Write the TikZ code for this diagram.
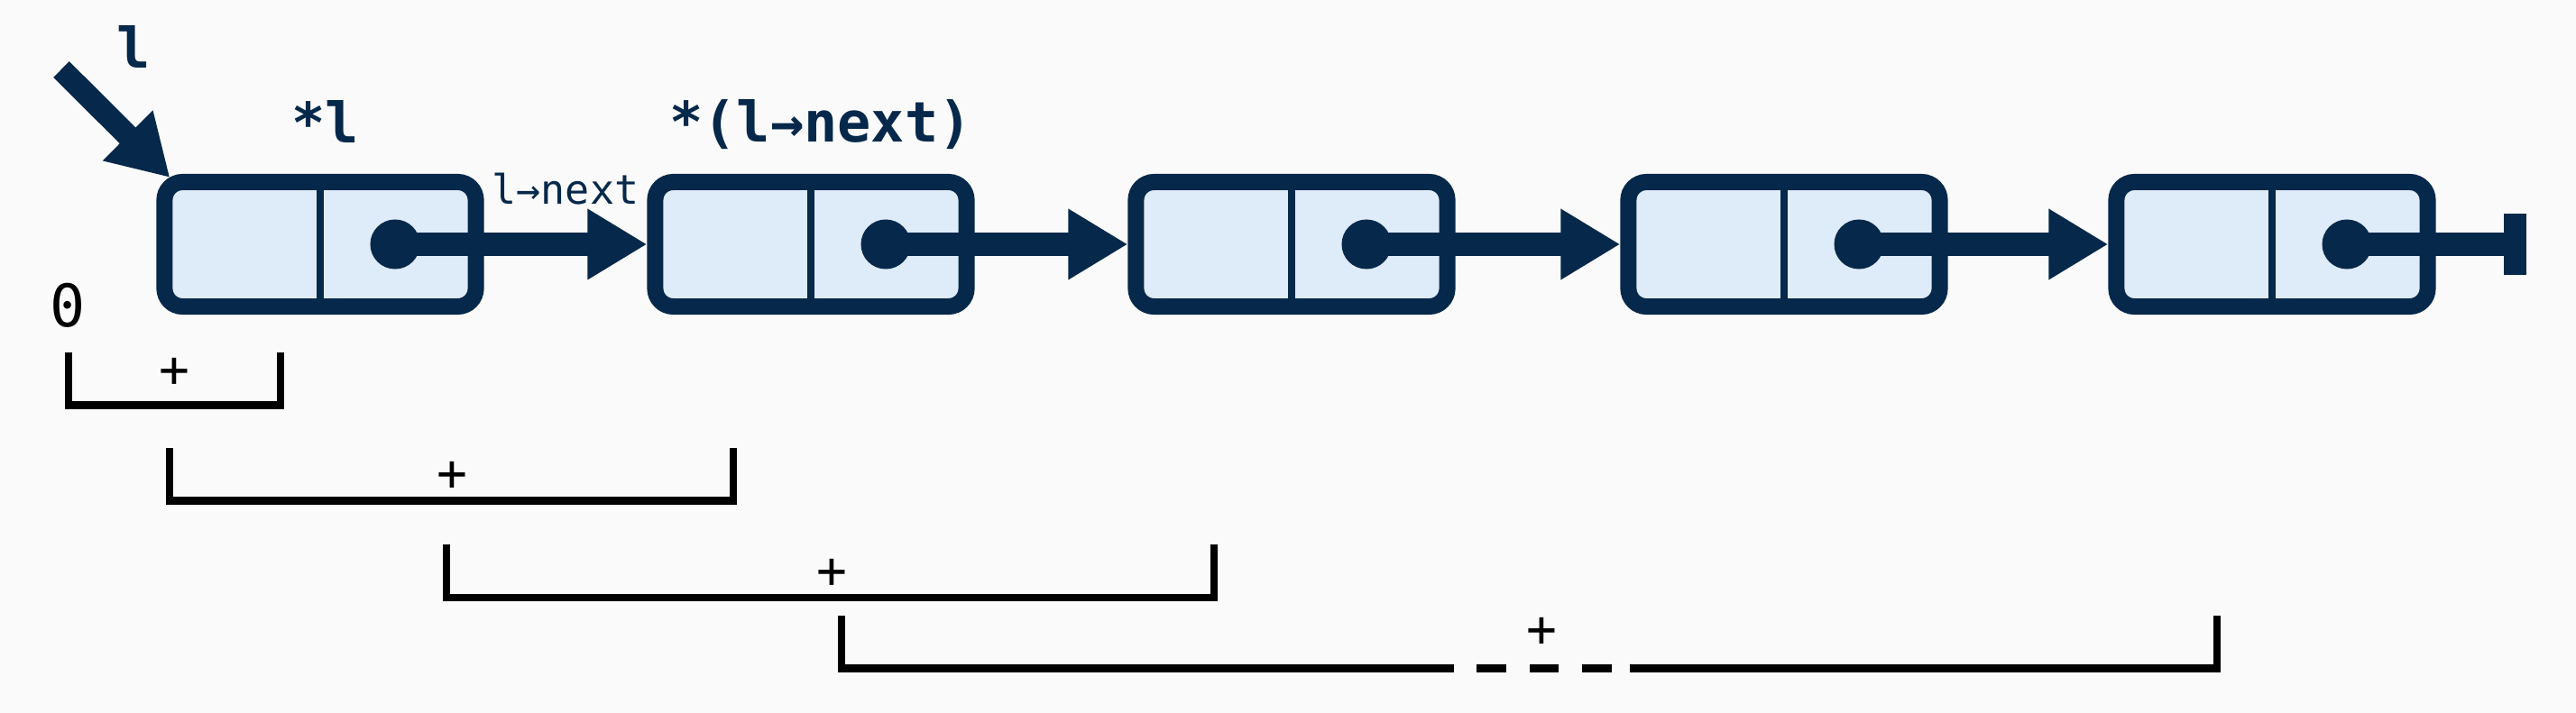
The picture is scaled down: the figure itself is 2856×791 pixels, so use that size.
\documentclass[tikz,border=0pt]{standalone}
\usepackage{fontspec}
\setmonofont{DejaVu Sans Mono}
\usetikzlibrary{arrows.meta,calc}
\definecolor{navy}{RGB}{6,40,74}
\definecolor{cellfill}{RGB}{222,235,248}
\definecolor{bgc}{RGB}{250,250,250}
\begin{document}
\begin{tikzpicture}[x=0.01cm,y=-0.01cm,
  cell/.style={draw=navy,fill=cellfill,line width=0.18cm,rounded corners=0.2cm,minimum width=3.45cm,minimum height=1.38cm,inner sep=0pt,outer sep=0.09cm},
  divider/.style={draw=navy,line width=0.08cm},
  ptrdot/.style={circle,fill=navy,minimum size=0.55cm,inner sep=0pt},
  ptr/.style={draw=navy,line width=0.25cm,-{Triangle[length=0.66cm,width=0.74cm]}},
  ptrline/.style={draw=navy,line width=0.25cm},
  bigl/.style={font=\ttfamily\bfseries\fontsize{17.6}{20}\selectfont,text=navy,inner sep=0pt,anchor=base},
  smalll/.style={font=\ttfamily\fontsize{12.8}{15}\selectfont,text=navy,inner sep=0pt,anchor=base},
  zerol/.style={font=\ttfamily\fontsize{18.5}{20}\selectfont,inner sep=0pt,anchor=base},
  plus/.style={font=\ttfamily\fontsize{16}{18}\selectfont,inner sep=0pt},
  brk/.style={draw=black,line width=0.08cm},
]
\fill[bgc] (0,0) rectangle (2856,791);
\useasboundingbox (0,0) rectangle (2856,791);

\node[cell] (n1) at (355,271) {};
\node[cell] (n2) at (899,271) {};
\node[cell] (n3) at (1432,271) {};
\node[cell] (n4) at (1978,271) {};
\node[cell] (n5) at (2519,271) {};

\foreach \n in {n1,n2,n3,n4,n5} \draw[divider] (\n.north) -- (\n.south);

\node[ptrdot] (d1) at ($(n1.center)+(83,0)$) {};
\node[ptrdot] (d2) at ($(n2.center)+(83,0)$) {};
\node[ptrdot] (d3) at ($(n3.center)+(83,0)$) {};
\node[ptrdot] (d4) at ($(n4.center)+(83,0)$) {};
\node[ptrdot] (d5) at ($(n5.center)+(83,0)$) {};

\draw[ptr] (d1.center) -- (n2.west);
\draw[ptr] (d2.center) -- (n3.west);
\draw[ptr] (d3.center) -- (n4.west);
\draw[ptr] (d4.center) -- (n5.west);

\coordinate (nil) at (2776,271);
\draw[ptrline] (d5.center) -- (nil);
\fill[navy] ($(nil)+(0,-34)$) rectangle ($(nil)+(25,34)$);

\coordinate (lstart) at (68,77);
\draw[ptr] (lstart) -- ($(n1.north west)+(15,4)$);

\node[bigl] (lname) at (148,76) {l};
\node[bigl] (deref1) at (361,159) {*l};
\node[bigl] (deref2) at (910,158) {*(l→next)};
\node[smalll] (nextlbl) at (627,227) {l→next};
\node[zerol] (zero) at (75,363) {0};

\node[plus] (p1) at (193.5,413.5) {+};
\node[plus] (p2) at (501,528) {+};
\node[plus] (p3) at (922,636) {+};
\node[plus] (p4) at (1709,701.5) {+};

\draw[brk] (76,391) -- (76,449.5) -- (311,449.5) -- (311,391);
\draw[brk] (188,497) -- (188,555.5) -- (813,555.5) -- (813,497);
\draw[brk] (495,604) -- (495,663) -- (1346,663) -- (1346,604);
\draw[brk] (933,683) -- (933,741.5) -- (1612,741.5);
\draw[brk] (1637,741.5) -- (1670,741.5) (1696,741.5) -- (1728,741.5) (1754,741.5) -- (1787,741.5);
\draw[brk] (1807,741.5) -- (2458,741.5) -- (2458,683);
\end{tikzpicture}
\end{document}
